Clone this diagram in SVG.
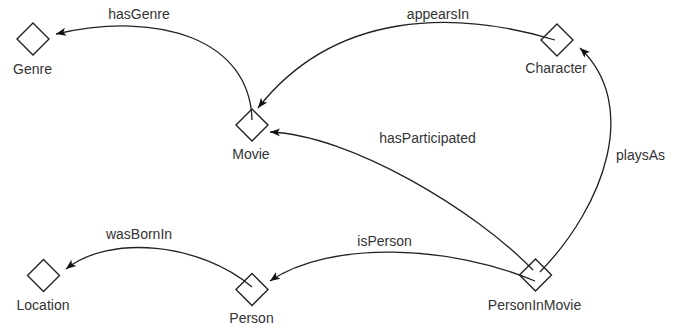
<svg xmlns="http://www.w3.org/2000/svg" width="678" height="328" viewBox="0 0 678 328">
<style>
  .node { fill: none; stroke: #222; stroke-width: 1.4; }
  .lbl { font-family: "Liberation Sans", Arial, sans-serif; font-size: 14px; fill: #333; text-anchor: middle; }
  .edge { fill: none; stroke: #222; stroke-width: 1.3; marker-end: url(#arrow); }
</style>
<defs>
  <marker id="arrow" viewBox="0 -5 10 10" refX="10" refY="0" markerWidth="10" markerHeight="10" markerUnits="userSpaceOnUse" orient="auto">
    <path d="M0,-4 L10,0 L0,4 L2.5,0 Z" fill="#111"/>
  </marker>
  <path id="dm" d="M0,-16 L16,0 L0,16 L-16,0 Z"/>
</defs>
<rect width="678" height="328" fill="#fff"/>
<g id="connectors">
  <g id="e-hasGenre"><path class="edge" d="M252,120 C250,40 160,10 56,34"/><text class="lbl" x="139" y="18.5">hasGenre</text></g>
  <g id="e-appearsIn"><path class="edge" d="M555,40 C455,10 335,10 258,108"/><text class="lbl" x="438" y="18.5">appearsIn</text></g>
  <g id="e-hasParticipated"><path class="edge" d="M533,270 C475,210 350,135 270,132"/><text class="lbl" x="427.5" y="142.5">hasParticipated</text></g>
  <g id="e-playsAs"><path class="edge" d="M540,272 C605,205 640,105 580,48"/><text class="lbl" x="640.5" y="160">playsAs</text></g>
  <g id="e-isPerson"><path class="edge" d="M535,281 C450,245 330,240 270,281"/><text class="lbl" x="384.5" y="246">isPerson</text></g>
  <g id="e-wasBornIn"><path class="edge" d="M252,287 C200,243 110,234 66,269"/><text class="lbl" x="139" y="238.5">wasBornIn</text></g>
</g>
<g id="Genre"><use href="#dm" class="node" x="33" y="39"/><text class="lbl" x="32.5" y="73.5">Genre</text></g>
<g id="Movie"><use href="#dm" class="node" x="252" y="125"/><text class="lbl" x="251" y="158.5">Movie</text></g>
<g id="Character"><use href="#dm" class="node" x="557" y="40"/><text class="lbl" x="556" y="73">Character</text></g>
<g id="Location"><use href="#dm" class="node" x="43.5" y="275.5"/><text class="lbl" x="43" y="309.5">Location</text></g>
<g id="Person"><use href="#dm" class="node" x="252" y="289.5"/><text class="lbl" x="251.5" y="322.5">Person</text></g>
<g id="PersonInMovie"><use href="#dm" class="node" x="535.5" y="275"/><text class="lbl" x="534.5" y="309.5">PersonInMovie</text></g>
</svg>
